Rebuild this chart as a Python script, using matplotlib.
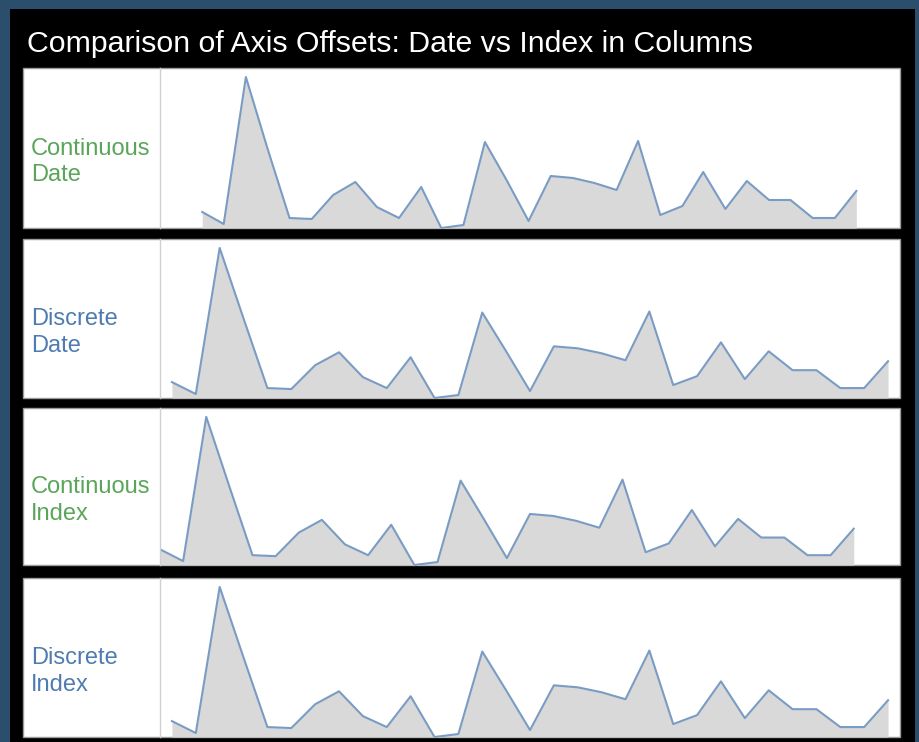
import matplotlib
matplotlib.use("Agg")
import matplotlib.pyplot as plt
import matplotlib.patches as mpatches
import numpy as np
import pandas as pd

# ---- data ----
values = [16, 4, 151, 80, 10, 9, 33, 46, 21, 10, 41, 0, 3, 86, 47, 7, 52, 50,
          45, 38, 87, 13, 22, 56, 19, 47, 28, 28, 10, 10, 37]
dates = pd.date_range("2010-04-01", periods=len(values), freq="MS")
panel_labels = ["Continuous\nDate", "Discrete\nDate", "Continuous\nIndex", "Discrete\nIndex"]
panel_modes = ["cont_date", "disc", "cont_index", "disc"]
label_colors = ["#5aa55a", "#4f7cb0", "#5aa55a", "#4f7cb0"]
title = "Comparison of Axis Offsets: Date vs Index in Columns"

W, H = 920, 742
fig = plt.figure(figsize=(W / 100, H / 100), dpi=100)
fig.patch.set_facecolor("#2a4e6c")

def fx(px):
    return px / W

def fy(py):
    return 1 - py / H

# black frame
fig.patches.append(mpatches.Rectangle((fx(10), fy(742)), fx(915) - fx(10), fy(9) - fy(742),
                                      transform=fig.transFigure, facecolor="black",
                                      edgecolor="none", zorder=0))

fig.text(fx(27), fy(44), title, color="white", fontsize=21.8, family="Liberation Sans",
         va="center", ha="left")

panels = [(68, 228), (239, 398), (408, 565), (578, 737)]
left_px, split_px, right_px = 23, 160, 900

for (top, bot), lab, mode, lc in zip(panels, panel_labels, panel_modes, label_colors):
    fig.patches.append(mpatches.Rectangle((fx(left_px), fy(bot)), fx(right_px) - fx(left_px),
                                          fy(top) - fy(bot), transform=fig.transFigure,
                                          facecolor="white", edgecolor="#9a9a9a",
                                          linewidth=1.0, zorder=1))
    fig.text(fx(31), fy((top + bot) / 2 + 14), lab, color=lc, fontsize=17,
             family="Liberation Sans", va="center", ha="left", linespacing=1.28, zorder=3)
    ax = fig.add_axes([fx(split_px), fy(bot), fx(right_px) - fx(split_px), fy(top) - fy(bot)])
    ax.set_facecolor("none")
    ax.set_zorder(2)
    if mode == "cont_date":
        x = dates
        ax.set_xlim(pd.Timestamp("2010-02-01"), pd.Timestamp("2012-12-01"))
    elif mode == "cont_index":
        x = np.arange(len(values))
        ax.set_xlim(0, 32)
    else:
        x = np.arange(len(values))
        ax.set_xlim(-0.5, 30.5)
    ax.fill_between(x, values, 0, color="#d9d9d9", linewidth=0)
    ax.plot(x, values, color="#7a9cc4", linewidth=1.5)
    ax.set_ylim(0, 160)
    ax.set_xticks([])
    ax.set_yticks([])
    for s in ["top", "right", "bottom"]:
        ax.spines[s].set_visible(False)
    ax.spines["left"].set_color("#d0d0d0")
    ax.spines["left"].set_linewidth(1.0)

fig.savefig("out.png", dpi=100, facecolor=fig.get_facecolor())
